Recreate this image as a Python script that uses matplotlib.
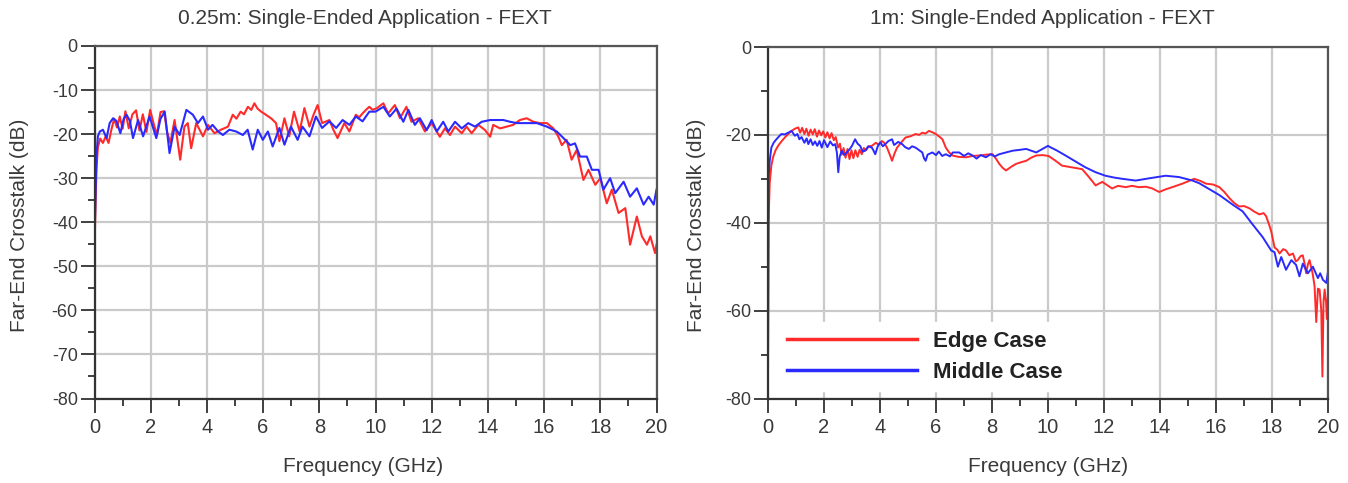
import numpy as np
import matplotlib
matplotlib.use("Agg")
import matplotlib.pyplot as plt
from matplotlib.ticker import MultipleLocator

plt.rcParams['font.family'] = ['Liberation Sans', 'DejaVu Sans']

# ---------------- data ----------------
titles = ["0.25m: Single-Ended Application - FEXT", "1m: Single-Ended Application - FEXT"]
xlabel = "Frequency (GHz)"
ylabel = "Far-End Crosstalk (dB)"
series_names = ["Edge Case", "Middle Case"]

left_edge_f = [0.0, 0.03, 0.07, 0.12, 0.2, 0.3, 0.4, 0.5, 0.6, 0.7, 0.8, 0.9, 1.0, 1.1, 1.22, 1.35, 1.48, 1.6, 1.72, 1.85, 1.98, 2.1, 2.22, 2.35, 2.48, 2.58, 2.7, 2.85, 3.05, 3.2, 3.32, 3.44, 3.62, 3.86, 4.04, 4.27, 4.5, 4.75, 4.92, 5.05, 5.2, 5.32, 5.46, 5.58, 5.69, 5.8, 5.93, 6.1, 6.3, 6.46, 6.58, 6.76, 6.93, 7.1, 7.3, 7.47, 7.65, 7.8, 7.94, 8.1, 8.36, 8.5, 8.65, 8.89, 9.07, 9.3, 9.42, 9.54, 9.66, 9.78, 9.9, 10.05, 10.28, 10.45, 10.69, 10.87, 11.1, 11.28, 11.52, 11.76, 12.0, 12.29, 12.47, 12.65, 12.83, 13.07, 13.24, 13.42, 13.66, 13.9, 14.08, 14.19, 14.43, 14.67, 14.9, 15.14, 15.38, 15.62, 15.86, 16.1, 16.33, 16.51, 16.63, 16.8, 16.98, 17.16, 17.4, 17.58, 17.82, 18.0, 18.23, 18.41, 18.65, 18.89, 19.06, 19.3, 19.48, 19.66, 19.78, 19.95, 20.0]
left_edge_db = [-46, -38, -28, -23, -21, -22, -20.5, -22, -19, -16.5, -18.5, -16, -18.8, -14.8, -18.7, -15.5, -14.6, -19.2, -15.5, -19.5, -14.5, -17.5, -20.2, -15, -14.8, -19.5, -22, -16.8, -25.8, -18.3, -17.5, -23.2, -17.5, -20.5, -17.9, -19.8, -19, -18.3, -15.6, -16.5, -14.9, -15.5, -13.8, -14.5, -13, -14.2, -14.9, -15.6, -16.5, -17.5, -21.6, -16.4, -20.5, -14.9, -19.4, -14.1, -18.3, -15.5, -13.4, -17.5, -16.8, -19, -20.9, -17.5, -19.4, -15.6, -16.2, -15.3, -14.5, -13.8, -14.5, -14.1, -13, -15.3, -13.4, -16.4, -13.8, -17.2, -16.4, -19.4, -17.5, -20.6, -18.7, -20.2, -18.3, -19.8, -18.3, -19.8, -17.9, -19.1, -20.6, -17.9, -18.7, -18.3, -17.9, -16.8, -16.4, -17.2, -17.5, -17.5, -18.7, -20.6, -22.5, -21.3, -25.8, -23.6, -30.4, -28.1, -31.5, -30, -35.7, -32.6, -37.9, -36.8, -45.1, -38.7, -43.2, -45.1, -43.2, -47, -45.1]

left_mid_f = [0.0, 0.03, 0.07, 0.12, 0.19, 0.3, 0.43, 0.54, 0.66, 0.78, 0.92, 1.04, 1.14, 1.26, 1.37, 1.55, 1.73, 1.96, 2.2, 2.35, 2.5, 2.67, 2.85, 3.03, 3.27, 3.5, 3.68, 3.86, 4.04, 4.2, 4.4, 4.57, 4.8, 5.04, 5.28, 5.45, 5.63, 5.81, 5.99, 6.17, 6.34, 6.58, 6.76, 6.99, 7.23, 7.4, 7.65, 7.88, 8.1, 8.36, 8.6, 8.83, 9.07, 9.3, 9.54, 9.78, 10.0, 10.28, 10.51, 10.75, 10.99, 11.17, 11.4, 11.58, 11.82, 12.0, 12.18, 12.41, 12.59, 12.83, 13.07, 13.3, 13.54, 13.78, 14.08, 14.55, 14.79, 15.03, 15.38, 15.74, 16.1, 16.45, 16.69, 16.93, 17.1, 17.28, 17.52, 17.7, 17.94, 18.11, 18.35, 18.53, 18.83, 19.06, 19.3, 19.54, 19.72, 19.9, 20.0]
left_mid_db = [-45, -35, -25, -20.5, -19.4, -19, -20.9, -17.5, -16.4, -17, -19.8, -16.5, -15.6, -17, -20.9, -16.8, -20.5, -16, -20.9, -16.5, -14.9, -24.3, -18.3, -20.2, -14.5, -15.6, -17.5, -16, -19, -17.9, -19.4, -20.2, -19, -19.4, -20.2, -19, -23.5, -19, -21.3, -19.4, -22.8, -18.6, -22.4, -18.3, -21.3, -18.3, -20.5, -16, -18.6, -17.1, -18.6, -16.8, -17.9, -16, -17.1, -14.9, -14.9, -13.8, -16, -14.2, -17.2, -14.5, -17.9, -16.4, -19.1, -16.8, -19.4, -17.2, -19.4, -17.2, -18.7, -17.5, -18.3, -17.2, -16.8, -16.8, -17.2, -17.5, -17.5, -17.5, -18.3, -19.4, -20.9, -22.5, -22.1, -25.1, -25.1, -28.1, -28.1, -32.6, -30, -33.4, -30.8, -34.2, -32.3, -36, -34.2, -36, -32.6]

right_edge_f = [0.0, 0.01, 0.02, 0.06, 0.12, 0.18, 0.27, 0.36, 0.48, 0.6, 0.72, 0.84, 0.96, 1.08, 1.15, 1.22, 1.3, 1.37, 1.45, 1.52, 1.6, 1.67, 1.75, 1.82, 1.9, 1.97, 2.05, 2.12, 2.2, 2.27, 2.35, 2.42, 2.5, 2.57, 2.63, 2.7, 2.77, 2.84, 2.91, 2.98, 3.05, 3.12, 3.2, 3.27, 3.35, 3.42, 3.5, 3.6, 3.71, 3.85, 3.95, 4.07, 4.15, 4.25, 4.35, 4.43, 4.52, 4.61, 4.75, 4.91, 5.1, 5.27, 5.4, 5.51, 5.62, 5.75, 5.87, 5.99, 6.1, 6.23, 6.35, 6.47, 6.59, 6.8, 7.07, 7.3, 7.54, 7.8, 8.02, 8.15, 8.26, 8.38, 8.5, 8.7, 8.86, 9.05, 9.22, 9.4, 9.58, 9.8, 10.02, 10.25, 10.5, 10.85, 11.22, 11.45, 11.7, 11.94, 12.29, 12.5, 12.77, 13.0, 13.25, 13.5, 13.73, 13.97, 14.2, 14.44, 14.8, 15.22, 15.45, 15.64, 15.9, 16.12, 16.3, 16.48, 16.65, 16.83, 17.0, 17.19, 17.35, 17.55, 17.7, 17.79, 17.9, 17.97, 18.09, 18.2, 18.27, 18.4, 18.5, 18.62, 18.75, 18.85, 18.92, 19.02, 19.1, 19.17, 19.22, 19.28, 19.34, 19.45, 19.52, 19.58, 19.64, 19.7, 19.76, 19.8, 19.84, 19.88, 19.93, 19.96, 20.0]
right_edge_db = [-75, -60, -40, -31, -27, -25.1, -23.5, -22.5, -21.5, -20.6, -19.8, -19.1, -18.6, -18.3, -19.5, -18.4, -19.8, -18.6, -20.2, -18.8, -19.9, -18.7, -20.4, -19, -20.1, -19.2, -20.6, -19.4, -20.8, -19.6, -21.2, -20.5, -22.9, -22, -24.5, -23, -25.2, -23.2, -25.5, -23.5, -25.3, -23.5, -25, -23.4, -24.4, -23, -23.5, -22.6, -22.5, -21.8, -22.2, -21.4, -21.8, -22.9, -24.5, -25.9, -24.2, -22.9, -21.8, -20.6, -20.3, -19.8, -20, -19.5, -19.7, -19.1, -19.4, -19.8, -20.3, -21, -22.9, -24, -24.7, -25, -25.1, -24.8, -24.7, -24.5, -24.4, -25.5, -26.6, -27.5, -28.1, -27.2, -26.6, -26.2, -25.9, -25.2, -24.7, -24.6, -24.8, -25.8, -27, -27.4, -27.8, -29.5, -31.5, -30.7, -32.2, -31.6, -31.9, -31.6, -31.9, -31.8, -32.2, -33, -32.4, -31.9, -31.1, -30, -30.5, -31.1, -31.3, -31.9, -33, -34.4, -35.5, -36.3, -36.2, -36.7, -37.4, -38.1, -37.8, -38.5, -40.5, -41.9, -45.6, -46.2, -47, -46, -46.3, -47.4, -47, -48.8, -48.5, -47.6, -47.4, -49.5, -51.5, -49.5, -48.5, -51.5, -54.4, -62.6, -55, -55.2, -60, -75.0, -58, -55.2, -58, -61.9, -56.7]

right_mid_f = [0.0, 0.01, 0.02, 0.06, 0.12, 0.2, 0.3, 0.4, 0.48, 0.6, 0.72, 0.84, 0.96, 1.05, 1.12, 1.2, 1.3, 1.38, 1.44, 1.52, 1.6, 1.68, 1.76, 1.84, 1.92, 2.0, 2.04, 2.12, 2.22, 2.32, 2.4, 2.46, 2.51, 2.56, 2.63, 2.72, 2.81, 2.9, 3.0, 3.11, 3.2, 3.29, 3.38, 3.47, 3.58, 3.71, 3.77, 3.83, 3.92, 4.01, 4.1, 4.19, 4.3, 4.43, 4.5, 4.55, 4.65, 4.79, 4.9, 5.03, 5.15, 5.27, 5.4, 5.51, 5.57, 5.63, 5.7, 5.87, 6.0, 6.1, 6.22, 6.35, 6.5, 6.6, 6.83, 7.0, 7.15, 7.31, 7.45, 7.6, 7.78, 7.95, 8.1, 8.26, 8.5, 8.74, 9.0, 9.22, 9.4, 9.58, 9.8, 10.0, 10.08, 10.3, 10.6, 10.86, 11.1, 11.34, 11.7, 12.05, 12.35, 12.65, 13.13, 13.6, 14.2, 14.68, 15.16, 15.4, 15.64, 16.12, 16.6, 16.95, 17.31, 17.67, 17.97, 18.09, 18.21, 18.33, 18.5, 18.69, 18.86, 18.98, 19.1, 19.28, 19.46, 19.64, 19.72, 19.82, 19.94, 20.0]
right_mid_db = [-72, -50, -30, -26, -22.9, -21.8, -21, -20.3, -19.8, -19.9, -19.5, -19.1, -20.2, -19.8, -21, -20.5, -21.8, -20.8, -22.1, -21, -22.3, -21.5, -22.5, -21.4, -22.9, -21.2, -21.7, -22.8, -21.5, -22.4, -22.1, -24, -28.5, -25, -23.6, -24.6, -24, -23.4, -22.5, -21, -22, -22.5, -23.8, -23.6, -22.6, -22.9, -23.6, -24.4, -22.6, -21.7, -22.6, -22.1, -21.4, -21, -22.3, -22.1, -21.6, -22.1, -22.8, -23.2, -22.6, -22.9, -23.5, -24, -25.3, -25.9, -24.5, -24, -24.6, -23.8, -24.8, -24.4, -24.9, -24, -24, -24.8, -24.2, -24.7, -25.4, -24.6, -25.1, -24.4, -24.9, -24.4, -24, -23.6, -23.4, -23.2, -23.6, -24, -23.2, -22.5, -22.8, -23.5, -24.6, -25.6, -26.5, -27.4, -28.5, -29.3, -29.7, -30, -30.4, -29.9, -29.3, -29.6, -30.4, -31, -31.9, -33.7, -35.9, -37.4, -40.4, -43.3, -46.3, -46.7, -50, -47.8, -50.7, -48.5, -49.6, -52.2, -49.3, -51.5, -50, -52.6, -51.5, -53, -53.7, -51.1]

x_ticks = [0, 2, 4, 6, 8, 10, 12, 14, 16, 18, 20]
left_y_ticks = [0, -10, -20, -30, -40, -50, -60, -70, -80]
right_y_ticks = [0, -20, -40, -60, -80]

# ---------------- figure ----------------
W, H = 1348, 483
fig = plt.figure(figsize=(W / 100, H / 100), dpi=100)

def frac_rect(x0, y0, x1, y1):
    return [x0 / W, 1 - y1 / H, (x1 - x0) / W, (y1 - y0) / H]

axL = fig.add_axes(frac_rect(94.5, 46, 656.5, 398.5))
axR = fig.add_axes(frac_rect(768, 47, 1328, 398.5))

RED = '#ff2a2a'
BLUE = '#2a2aff'
TXT = '#3a3a3a'

def style(ax, yticks, yminor):
    ax.set_xlim(0, 20)
    ax.set_ylim(-80, 0)
    ax.set_xticks(x_ticks)
    ax.xaxis.set_minor_locator(MultipleLocator(1))
    ax.set_yticks(yticks)
    ax.yaxis.set_minor_locator(MultipleLocator(yminor))
    ax.grid(True, which='major', color='#cacaca', lw=1.6)
    ax.set_axisbelow(True)
    ax.tick_params(axis='both', which='major', length=10, width=1.4, color='#404040')
    ax.tick_params(axis='both', which='minor', length=5, width=1.4, color='#404040')
    ax.tick_params(axis='x', which='major', labelsize=14.5, labelcolor=TXT, pad=4)
    ax.tick_params(axis='y', which='major', labelsize=13, labelcolor=TXT, pad=2)
    for s in ['left', 'bottom']:
        ax.spines[s].set_color('#333333')
        ax.spines[s].set_linewidth(1.6)
    for s in ['top', 'right']:
        ax.spines[s].set_color('#555555')
        ax.spines[s].set_linewidth(1.6)
    ax.set_yticklabels([str(v) for v in yticks])

style(axL, left_y_ticks, 5)
style(axR, right_y_ticks, 10)

axL.plot(left_edge_f, left_edge_db, color=RED, lw=1.5)
axL.plot(left_mid_f, left_mid_db, color=BLUE, lw=1.5)
lr, = axR.plot(right_edge_f, right_edge_db, color=RED, lw=1.4, label=series_names[0])
lb, = axR.plot(right_mid_f, right_mid_db, color=BLUE, lw=1.4, label=series_names[1])

leg = axR.legend(handles=[lr, lb], loc='lower left', bbox_to_anchor=(0.018, 0.02),
                 prop={'weight': 'bold', 'size': 16}, handlelength=5.85,
                 handletextpad=0.7, labelspacing=0.45, borderpad=0.4,
                 frameon=True, fancybox=False, framealpha=1.0, borderaxespad=0)
leg.get_frame().set_edgecolor('white')
leg.get_frame().set_facecolor('white')
for t in leg.get_texts():
    t.set_color('#222222')
for h in leg.get_lines():
    h.set_linewidth(2.5)

# titles and axis labels
fig.text(365 / W, 1 - 18 / H, titles[0], ha='center', va='center', fontsize=15, color=TXT)
fig.text(1042 / W, 1 - 18 / H, titles[1], ha='center', va='center', fontsize=15, color=TXT)
fig.text(363 / W, 1 - 467 / H, xlabel, ha='center', va='center', fontsize=15, color=TXT)
fig.text(1048 / W, 1 - 467 / H, xlabel, ha='center', va='center', fontsize=15, color=TXT)
fig.text(20 / W, 1 - 225 / H, ylabel, ha='center', va='center', rotation=90, fontsize=15, color=TXT)
fig.text(697 / W, 1 - 225 / H, ylabel, ha='center', va='center', rotation=90, fontsize=15, color=TXT)

fig.savefig('out.png', dpi=100)
